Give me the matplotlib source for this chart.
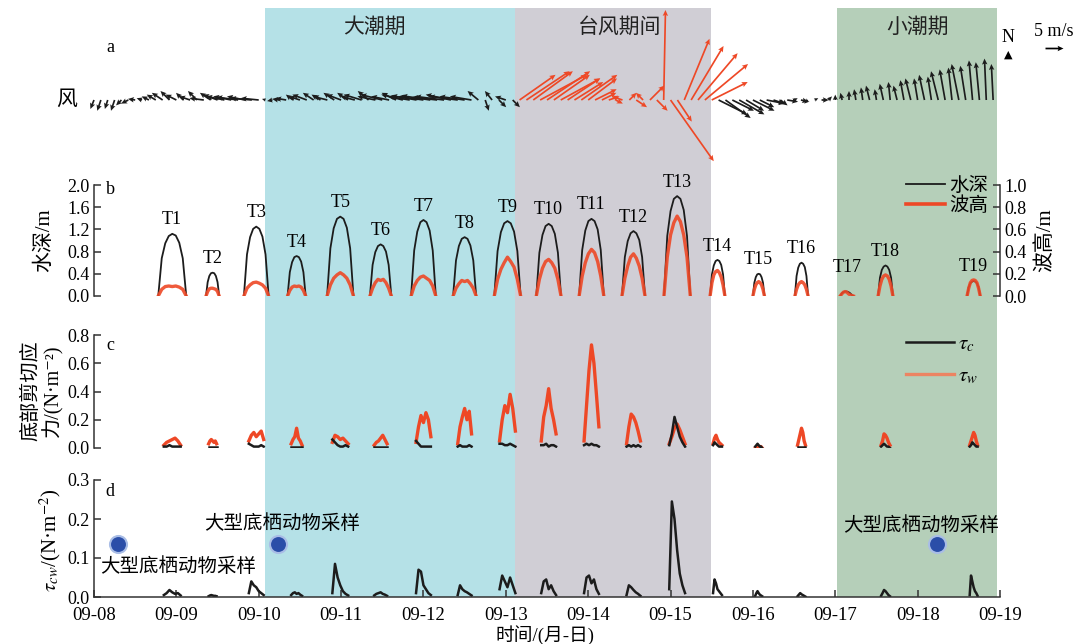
import numpy as np
import matplotlib
matplotlib.use('Agg')
import matplotlib.pyplot as plt
from matplotlib.lines import Line2D

plt.rcParams['font.family'] = ['Liberation Serif', 'DejaVu Serif', 'Noto Sans CJK SC']
plt.rcParams['mathtext.fontset'] = 'stix'
plt.rcParams['axes.unicode_minus'] = False

# ---------------- data ----------------
day_ticks = list(range(12))  # days after 09-08 00:00
day_labels = ['09-08', '09-09', '09-10', '09-11', '09-12', '09-13',
              '09-14', '09-15', '09-16', '09-17', '09-18', '09-19']

period_names = ['大潮期', '台风期间', '小潮期']
period_start = [2.075, 5.11, 9.02]
period_end = [5.11, 7.49, 10.96]
period_colors = ['#b5e1e7', '#d0ced5', '#b5cfb9']

typhoon_window = [5.11, 7.5]

# wind vectors every 2 h from 09-08 00:00 (m/s, u east, v north)
wind_step_days = 2 / 24
wind_u = [
    -1.0, -1.0, -0.8, -1.0, -1.5, -2.0, -2.0, -1.5, -2.0, -2.5, -3.0, -2.5,   # 09-08
    -3.0, -2.0, -3.0, -2.5, -4.0, -3.0, -4.0, -5.0, -5.0, -6.0, -5.0, -6.0,   # 09-09
    -5.0, -1.0, -1.5, -2.0, -3.0, -2.0, -3.0, -4.0, -3.0, -2.5, -4.0, -3.0,   # 09-10
    -4.0, -3.0, -4.0, -5.0, -3.0, -5.0, -6.0, -5.0, -4.0, -6.0, -6.0, -7.0,   # 09-11
    -7.0, -8.0, -7.0, -8.0, -7.0, -8.0, -7.0, -6.0, -3.0, 1.0, -2.0, 2.0,     # 09-12
    -3.0, 2.0, 10.0, 12.0, 11.0, 13.0, 12.0, 10.0, 11.0, 9.0, 8.0, 10.0,      # 09-13
    8.0, 6.0, 4.0, 3.0, 2.0, -3.0, 2.0, 3.0, -2.0, 4.0, 3.0, 0.5,             # 09-14
    12.0, 4.0, 7.0, 9.0, 11.0, 12.0, 10.0, 8.0, 7.0, 6.0, 7.0, 5.0,           # 09-15
    6.0, 4.0, 5.0, 3.0, 2.0, 3.0, 1.0, 2.0, -1.0, 1.0, 2.0, 1.0,              # 09-16
    0.0, -0.5, 0.0, -0.5, -0.5, -1.0, -0.5, -1.0, -0.5, -1.0, -1.0, -1.5,     # 09-17
    -1.0, -1.5, -1.0, -2.0, -1.5, -1.0, -2.0, -1.5, -1.0, -1.0, -0.5, -0.5,   # 09-18
]
wind_v = [
    -2.5, -3.0, -2.5, -3.0, -1.5, -1.0, 0.3, 0.5, 1.0, 1.5, 2.0, 2.5,         # 09-08
    1.5, 2.0, 1.0, 2.5, 0.5, 2.0, 1.5, 1.0, 1.0, 0.8, 1.0, 0.5,               # 09-09
    0.5, 0.3, -0.3, 0.3, 0.5, 1.5, 1.0, 1.5, 2.0, 1.5, 1.0, 2.0,              # 09-10
    1.5, 2.0, 1.0, 1.5, 2.5, 1.0, 1.5, 1.0, 2.0, 1.5, 1.0, 1.2,               # 09-11
    1.0, 1.2, 0.8, 1.0, 1.5, 1.0, 1.0, 1.0, 2.5, -3.0, 2.5, -2.0,             # 09-12
    1.0, -2.0, 7.0, 8.0, 8.0, 7.0, 8.0, 7.0, 6.0, 6.0, 5.0, 7.0,              # 09-13
    6.0, 3.0, 2.0, 1.0, -1.0, 1.0, 2.0, -2.0, 2.0, 4.0, -3.0, 25.0,           # 09-14
    -17.0, -6.0, 17.0, 15.0, 13.0, 10.0, 5.0, -4.0, -5.0, -3.0, -4.0, -3.0,   # 09-15
    -3.0, -2.0, -1.0, -1.0, -1.5, -0.5, 0.5, -0.5, -1.0, 0.5, 0.0, 1.0,       # 09-16
    1.5, 2.0, 2.5, 3.0, 3.5, 4.0, 3.0, 4.5, 5.0, 4.0, 5.5, 6.0,               # 09-17
    6.0, 7.0, 6.5, 8.0, 8.5, 9.0, 10.0, 9.5, 11.0, 10.5, 11.5, 10.0,          # 09-18
]

# tidal inundation events (days after 09-08 00:00)
tide_names = ['T%d' % i for i in range(1, 20)]
tide_start = [0.78, 1.36, 1.82, 2.35, 2.83, 3.35, 3.85, 4.36, 4.86, 5.37,
              5.89, 6.41, 6.92, 7.48, 8.00, 8.51, 9.06, 9.52, 10.60]
tide_end = [1.12, 1.52, 2.12, 2.57, 3.15, 3.61, 4.15, 4.64, 5.18, 5.67,
            6.19, 6.69, 7.24, 7.66, 8.14, 8.67, 9.22, 9.70, 10.76]

# water depth (m), sampled evenly over each event
depth = [
    [0, 0.68, 0.95, 1.08, 1.12, 1.09, 0.96, 0.68, 0],
    [0, 0.25, 0.36, 0.41, 0.42, 0.41, 0.36, 0.25, 0],
    [0, 0.75, 1.06, 1.21, 1.25, 1.21, 1.07, 0.75, 0],
    [0, 0.43, 0.61, 0.70, 0.72, 0.70, 0.62, 0.43, 0],
    [0, 0.86, 1.22, 1.39, 1.43, 1.39, 1.23, 0.86, 0],
    [0, 0.56, 0.79, 0.90, 0.93, 0.90, 0.80, 0.56, 0],
    [0, 0.82, 1.16, 1.33, 1.37, 1.33, 1.18, 0.82, 0],
    [0, 0.64, 0.90, 1.03, 1.06, 1.03, 0.91, 0.64, 0],
    [0, 0.81, 1.15, 1.31, 1.35, 1.31, 1.16, 0.81, 0],
    [0, 0.78, 1.10, 1.26, 1.30, 1.26, 1.12, 0.78, 0],
    [0, 0.83, 1.18, 1.35, 1.39, 1.35, 1.20, 0.83, 0],
    [0, 0.70, 0.99, 1.13, 1.17, 1.13, 1.01, 0.70, 0],
    [0, 1.08, 1.53, 1.75, 1.80, 1.75, 1.55, 1.08, 0],
    [0, 0.39, 0.55, 0.63, 0.65, 0.63, 0.56, 0.39, 0],
    [0, 0.24, 0.34, 0.39, 0.40, 0.39, 0.34, 0.24, 0],
    [0, 0.36, 0.51, 0.58, 0.60, 0.58, 0.52, 0.36, 0],
    [0, 0.05, 0.07, 0.08, 0.08, 0.07, 0.05, 0.02, 0],
    [0, 0.33, 0.47, 0.53, 0.55, 0.53, 0.47, 0.33, 0],
    [0, 0.16, 0.23, 0.26, 0.27, 0.26, 0.23, 0.16, 0],
]
# wave height (m)
wave = [
    [0, 0.06, 0.085, 0.09, 0.085, 0.09, 0.08, 0.06, 0],
    [0, 0.04, 0.065, 0.07, 0.07, 0.065, 0.06, 0.04, 0],
    [0, 0.07, 0.10, 0.12, 0.125, 0.115, 0.10, 0.07, 0],
    [0, 0.05, 0.08, 0.09, 0.085, 0.09, 0.08, 0.05, 0],
    [0, 0.10, 0.16, 0.19, 0.21, 0.19, 0.16, 0.10, 0],
    [0, 0.07, 0.12, 0.15, 0.14, 0.15, 0.12, 0.07, 0],
    [0, 0.09, 0.14, 0.17, 0.18, 0.16, 0.14, 0.09, 0],
    [0, 0.07, 0.11, 0.14, 0.13, 0.14, 0.11, 0.07, 0],
    [0, 0.15, 0.24, 0.30, 0.35, 0.31, 0.26, 0.15, 0],
    [0, 0.15, 0.25, 0.31, 0.33, 0.30, 0.25, 0.15, 0],
    [0, 0.18, 0.30, 0.38, 0.42, 0.39, 0.31, 0.18, 0],
    [0, 0.16, 0.27, 0.35, 0.38, 0.34, 0.27, 0.16, 0],
    [0, 0.35, 0.55, 0.66, 0.72, 0.67, 0.55, 0.35, 0],
    [0, 0.12, 0.19, 0.22, 0.23, 0.21, 0.17, 0.10, 0],
    [0, 0.06, 0.10, 0.12, 0.13, 0.12, 0.10, 0.06, 0],
    [0, 0.06, 0.10, 0.12, 0.13, 0.12, 0.10, 0.06, 0],
    [0, 0.02, 0.035, 0.04, 0.035, 0.02, 0.01, 0.005, 0],
    [0, 0.09, 0.15, 0.18, 0.19, 0.18, 0.15, 0.09, 0],
    [0, 0.07, 0.12, 0.14, 0.145, 0.14, 0.12, 0.07, 0],
]
# wave shear stress tau_w (N/m2)
tau_w = [
    [0.02, 0.04, 0.05, 0.06, 0.07, 0.05, 0.02],
    [0.03, 0.05, 0.06, 0.05, 0.04, 0.05, 0.03],
    [0.05, 0.09, 0.11, 0.08, 0.10, 0.12, 0.06],
    [0.03, 0.06, 0.08, 0.14, 0.07, 0.05, 0.02],
    [0.04, 0.09, 0.08, 0.06, 0.07, 0.05, 0.03],
    [0.02, 0.04, 0.05, 0.07, 0.09, 0.06, 0.03],
    [0.04, 0.15, 0.23, 0.18, 0.25, 0.20, 0.08],
    [0.03, 0.15, 0.22, 0.28, 0.20, 0.26, 0.10],
    [0.05, 0.20, 0.30, 0.25, 0.38, 0.28, 0.12],
    [0.05, 0.22, 0.30, 0.42, 0.28, 0.20, 0.10],
    [0.05, 0.30, 0.55, 0.73, 0.60, 0.38, 0.15],
    [0.03, 0.15, 0.24, 0.22, 0.18, 0.12, 0.05],
    [0.03, 0.08, 0.14, 0.17, 0.13, 0.08, 0.03],
    [0.03, 0.07, 0.09, 0.06, 0.04, 0.03, 0.02],
    [0.00, 0.01, 0.01, 0.01, 0.01, 0.01, 0.00],
    [0.02, 0.06, 0.10, 0.14, 0.11, 0.05, 0.02],
    [],
    [0.02, 0.05, 0.10, 0.09, 0.07, 0.04, 0.02],
    [0.02, 0.05, 0.08, 0.11, 0.09, 0.05, 0.02],
]
# current shear stress tau_c (N/m2)
tau_c = [
    [0.01, 0.01, 0.02, 0.01, 0.01, 0.01, 0.01],
    [0.01, 0.01, 0.01, 0.01, 0.01, 0.01, 0.01],
    [0.03, 0.02, 0.01, 0.01, 0.01, 0.02, 0.01],
    [0.01, 0.01, 0.01, 0.01, 0.01, 0.01, 0.01],
    [0.06, 0.04, 0.02, 0.01, 0.01, 0.02, 0.01],
    [0.01, 0.01, 0.01, 0.01, 0.01, 0.01, 0.01],
    [0.05, 0.03, 0.01, 0.01, 0.01, 0.01, 0.01],
    [0.01, 0.02, 0.01, 0.01, 0.01, 0.02, 0.01],
    [0.03, 0.03, 0.02, 0.02, 0.03, 0.02, 0.01],
    [0.02, 0.02, 0.03, 0.01, 0.02, 0.02, 0.01],
    [0.02, 0.03, 0.02, 0.03, 0.02, 0.02, 0.01],
    [0.01, 0.02, 0.01, 0.02, 0.01, 0.02, 0.01],
    [0.02, 0.10, 0.22, 0.15, 0.08, 0.04, 0.01],
    [0.02, 0.04, 0.03, 0.02, 0.01, 0.01, 0.01],
    [0.01, 0.02, 0.03, 0.02, 0.01, 0.01, 0.00],
    [0.01, 0.01, 0.01, 0.01, 0.01, 0.01, 0.01],
    [],
    [0.01, 0.02, 0.03, 0.02, 0.01, 0.01, 0.00],
    [0.01, 0.02, 0.04, 0.03, 0.02, 0.01, 0.01],
]
# combined shear stress tau_cw (N/m2)
tau_cw = [
    [0.005, 0.01, 0.018, 0.012, 0.008, 0.01, 0.004],
    [0.002, 0.004, 0.005, 0.004, 0.003, 0.003, 0.002],
    [0.01, 0.04, 0.03, 0.025, 0.015, 0.01, 0.005],
    [0.005, 0.01, 0.012, 0.008, 0.01, 0.006, 0.003],
    [0.01, 0.085, 0.05, 0.03, 0.015, 0.008, 0.004],
    [0.004, 0.008, 0.01, 0.012, 0.008, 0.006, 0.003],
    [0.01, 0.07, 0.065, 0.03, 0.02, 0.01, 0.005],
    [0.005, 0.03, 0.02, 0.015, 0.012, 0.008, 0.004],
    [0.02, 0.055, 0.04, 0.025, 0.05, 0.03, 0.01],
    [0.01, 0.04, 0.045, 0.02, 0.03, 0.015, 0.005],
    [0.01, 0.05, 0.055, 0.035, 0.045, 0.02, 0.008],
    [0.005, 0.03, 0.025, 0.018, 0.012, 0.008, 0.003],
    [0.02, 0.245, 0.20, 0.12, 0.06, 0.03, 0.01],
    [0.01, 0.045, 0.035, 0.02, 0.015, 0.01, 0.005],
    [0.003, 0.01, 0.015, 0.01, 0.006, 0.004, 0.002],
    [0.002, 0.006, 0.01, 0.007, 0.005, 0.003, 0.001],
    [],
    [0.003, 0.01, 0.018, 0.015, 0.01, 0.005, 0.002],
    [0.005, 0.055, 0.04, 0.025, 0.015, 0.01, 0.003],
]

sample_t = [0.29, 2.23, 10.24]
sample_v = [0.135, 0.135, 0.135]
sample_label = '大型底栖动物采样'

# ---------------- figure ----------------
W, H = 1073, 644
fig = plt.figure(figsize=(W / 100, H / 100), dpi=100)

RED = '#ee4826'
BLK = '#1c1c1c'
SP = '#333333'

L = 94 / W
AW = (1000 - 94) / W


def ax_rect(top_px, bot_px):
    return [L, 1 - bot_px / H, AW, (bot_px - top_px) / H]


ax_bg = fig.add_axes(ax_rect(8, 597), zorder=0)
ax_w = fig.add_axes(ax_rect(10, 190), zorder=4)
ax_b = fig.add_axes(ax_rect(185, 296), zorder=2)
ax_c = fig.add_axes(ax_rect(335, 448), zorder=2)
ax_d = fig.add_axes(ax_rect(480, 597), zorder=2)

for ax in (ax_bg, ax_w, ax_b, ax_c, ax_d):
    ax.set_xlim(0, 11)
    ax.patch.set_visible(False)

# background periods
ax_bg.axis('off')
ax_bg.set_ylim(0, 1)
for s, e, c in zip(period_start, period_end, period_colors):
    ax_bg.axvspan(s, e, color=c, lw=0)
label_x = [3.41, 6.38, 10.0]
for name, x in zip(period_names, label_x):
    ax_bg.text(x, 0.966, name, ha='center', va='center', fontsize=15, color='#222222')

# ---- panel a: wind ----
ax_w.axis('off')
ax_w.set_ylim(-1, 1)
wind_t = np.arange(len(wind_u)) * wind_step_days
wind_colors = [RED if typhoon_window[0] <= t <= typhoon_window[1] else BLK for t in wind_t]
Q = ax_w.quiver(wind_t, np.zeros_like(wind_t), wind_u, wind_v, color=wind_colors,
                angles='uv', scale_units='dots', scale=5 / 18, units='dots',
                width=1.7, headwidth=3.2, headlength=3.5, headaxislength=3.0)
Q.set_clip_on(False)
ax_w.quiverkey(Q, 1054 / W, 1 - 48 / H, 5, '5 m/s', labelpos='N', coordinates='figure',
               color='k', labelsep=0.08, fontproperties={'size': 13})
fig.text(1008 / W, 1 - 38 / H, 'N', ha='center', va='center', fontsize=13)
fig.text(1008 / W, 1 - 55 / H, '▲', ha='center', va='center', fontsize=8,
         family=['DejaVu Sans'])
fig.text(67 / W, 1 - 100 / H, '风', ha='center', va='center', fontsize=15)

# ---- panel b: depth & wave height ----
ax_b2 = ax_b.twinx()
ax_b2.set_zorder(3)
ax_b2.patch.set_visible(False)
ax_b.set_ylim(0, 2.0)
ax_b2.set_ylim(0, 1.0)
ax_b2.set_xlim(0, 11)
extra_off = {'T17': 17}
for i, name in enumerate(tide_names):
    t = np.linspace(tide_start[i], tide_end[i], len(depth[i]))
    ax_b.plot(t, depth[i], color=BLK, lw=1.3)
    tw = np.linspace(tide_start[i], tide_end[i], len(wave[i]))
    ax_b2.plot(tw, wave[i], color=RED, lw=2.4, alpha=0.9)
    pk = max(max(depth[i]), 2 * max(wave[i]))
    ax_b.annotate(name, (0.5 * (tide_start[i] + tide_end[i]), pk),
                  xytext=(0, extra_off.get(name, 10)), textcoords='offset points',
                  ha='center', va='center', fontsize=13, annotation_clip=False)
ax_b.set_yticks(np.arange(0, 2.01, 0.4))
ax_b.set_yticklabels(['%.1f' % v for v in np.arange(0, 2.01, 0.4)])
ax_b2.set_yticks(np.arange(0, 1.01, 0.2))
ax_b2.set_yticklabels(['%.1f' % v for v in np.arange(0, 1.01, 0.2)])
for sp in ('top', 'bottom', 'right'):
    ax_b.spines[sp].set_visible(False)
for sp in ('top', 'bottom', 'left'):
    ax_b2.spines[sp].set_visible(False)
ax_b.tick_params(axis='x', bottom=False, labelbottom=False)
ax_b2.tick_params(axis='x', bottom=False, labelbottom=False)
leg = ax_b2.legend([Line2D([], [], color=BLK, lw=1.3), Line2D([], [], color=RED, lw=2.6)],
                   ['水深', '波高'], loc='upper right', bbox_to_anchor=(0.987, 1.07),
                   frameon=False, fontsize=14, handlelength=2.0, handletextpad=0.2,
                   labelspacing=0.05, borderaxespad=0, borderpad=0)
fig.text(45 / W, 1 - 240 / H, '水深/m', rotation=90, ha='center', va='center', fontsize=15)
fig.text(1045 / W, 1 - 240 / H, '波高/m', rotation=90, ha='center', va='center', fontsize=15)

# ---- panel c: tau_c, tau_w ----
ax_c.set_ylim(0, 0.8)
for i in range(len(tide_names)):
    if not tau_w[i]:
        continue
    d = tide_end[i] - tide_start[i]
    t = np.linspace(tide_start[i] + 0.2 * d, tide_end[i] - 0.2 * d, len(tau_w[i]))
    ax_c.plot(t, tau_w[i], color=RED, lw=2.4)
    ax_c.plot(t, tau_c[i], color=BLK, lw=1.8)
ax_c.set_yticks(np.arange(0, 0.81, 0.2))
ax_c.set_yticklabels(['%.1f' % v for v in np.arange(0, 0.81, 0.2)])
for sp in ('top', 'bottom', 'right'):
    ax_c.spines[sp].set_visible(False)
ax_c.tick_params(axis='x', bottom=False, labelbottom=False)
ax_c.legend([Line2D([], [], color=BLK, lw=1.8), Line2D([], [], color='#ec8462', lw=2.4)],
            [r'$\tau_c$', r'$\tau_w$'], loc='upper right',
            bbox_to_anchor=((978 - 94) / 906, 1.0), frameon=False, fontsize=15,
            handlelength=2.3, handletextpad=0.2, labelspacing=0.6,
            borderaxespad=0, borderpad=0)
fig.text(32 / W, 1 - 391 / H, '底部剪切应', rotation=90, ha='center',
         va='center', fontsize=14.5)
fig.text(53 / W, 1 - 391 / H, '力/(N·m⁻²)', rotation=90, ha='center',
         va='center', fontsize=14.5)

# ---- panel d: tau_cw ----
ax_d.set_ylim(0, 0.3)
for i in range(len(tide_names)):
    if not tau_cw[i]:
        continue
    d = tide_end[i] - tide_start[i]
    t = np.linspace(tide_start[i] + 0.2 * d, tide_end[i] - 0.2 * d, len(tau_cw[i]))
    ax_d.plot(t, tau_cw[i], color=BLK, lw=1.8)
ax_d.scatter(sample_t, sample_v, s=150, color='#2b4ea8', edgecolor='#a9bde6',
             linewidth=1.5, zorder=5, clip_on=False)
ax_d.text(1.02, 0.077, sample_label, ha='center', va='center', fontsize=14)
ax_d.text(2.29, 0.187, sample_label, ha='center', va='center', fontsize=14)
ax_d.text(10.04, 0.184, sample_label, ha='center', va='center', fontsize=14)
ax_d.set_yticks(np.arange(0, 0.31, 0.1))
ax_d.set_yticklabels(['%.1f' % v for v in np.arange(0, 0.31, 0.1)])
ax_d.set_xticks(day_ticks)
ax_d.set_xticklabels(day_labels)
for sp in ('top', 'right'):
    ax_d.spines[sp].set_visible(False)
fig.text(50 / W, 1 - 540 / H, r'$\tau_{cw}$/(N·m$^{-2}$)', rotation=90, ha='center',
         va='center', fontsize=15)
fig.text(545 / W, 1 - 635 / H, '时间/(月-日)', ha='center', va='center', fontsize=13.5)

for ax in (ax_b, ax_b2, ax_c, ax_d):
    for sp in ax.spines.values():
        sp.set_color(SP)
        sp.set_linewidth(1.1)
    ax.tick_params(axis='y', direction='in', length=5, width=1.1, color=SP,
                   labelsize=13, pad=3)
ax_d.tick_params(axis='x', direction='in', length=5, width=1.1, color=SP,
                 labelsize=13.5, pad=7)

# panel letters
for letter, (x, y) in zip('abcd', [(110, 48), (110, 190), (110, 346), (110, 491)]):
    fig.text(x / W, 1 - y / H, letter, ha='center', va='center', fontsize=13)

fig.savefig('out.png', dpi=100)
